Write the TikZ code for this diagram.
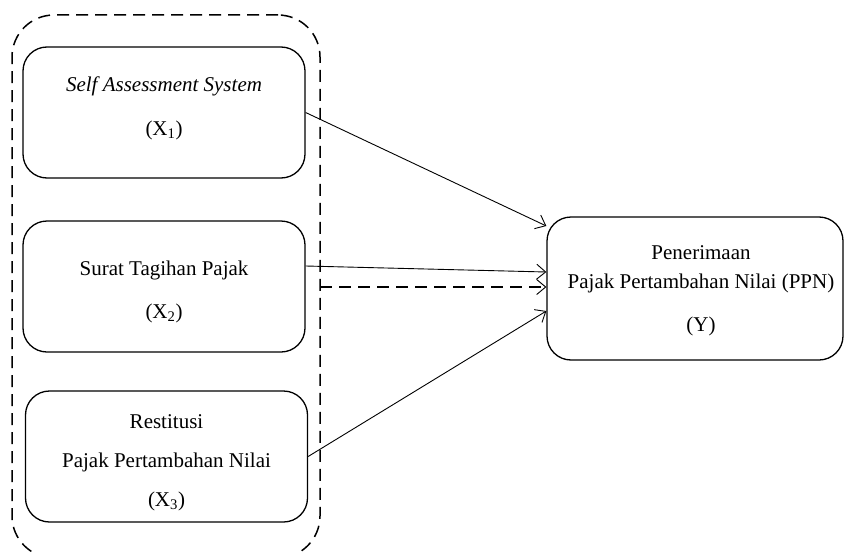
\documentclass[tikz,border=0pt]{standalone}
\usepackage{fontspec}
\setmainfont{Liberation Serif}
\usetikzlibrary{arrows.meta}
\begin{document}
\begin{tikzpicture}[x=1pt,y=-1pt,
  box/.style={draw,line width=1.3pt,rounded corners=24pt,inner sep=0pt,minimum width=282pt,minimum height=131pt},
  lbl/.style={font=\fontsize{21}{25}\selectfont,inner sep=0pt},
  arr/.style={line width=0.9pt,-{Straight Barb[length=9pt,width=15pt,line width=0.9pt]}},
  frame/.style={draw,line width=1.5pt,dash pattern=on 12pt off 7pt,rounded corners=42pt,inner sep=0pt}]
\useasboundingbox (0,0) rectangle (845,551);
\node[frame,minimum width=308pt,minimum height=543pt] (outer) at (166,286.5) {};
\node[box] (b1) at (164,112.5) {};
\node[box] (b2) at (164,286.5) {};
\node[box] (b3) at (166.5,456.5) {};
\node[box,minimum width=296pt,minimum height=143pt] (Y) at (695,288.5) {};
\node[lbl] (t1a) at (164,86) {\itshape Self Assessment System};
\node[lbl] (t1b) at (164,130) {(X\textsubscript{1})};
\node[lbl] (t2a) at (164,270) {Surat Tagihan Pajak};
\node[lbl] (t2b) at (164,313) {(X\textsubscript{2})};
\node[lbl] (t3a) at (166.5,422) {Restitusi};
\node[lbl] (t3b) at (166.5,462) {Pajak Pertambahan Nilai};
\node[lbl] (t3c) at (166.5,501) {(X\textsubscript{3})};
\node[lbl] (ya) at (701,253) {Penerimaan};
\node[lbl] (yb) at (701,283) {Pajak Pertambahan Nilai (PPN)};
\node[lbl] (yc) at (701,326) {(Y)};
\coordinate (ds) at (320,287);
\draw[arr] (b1.east) -- ([yshift=62.5pt]Y.west);
\draw[arr] ([yshift=20.5pt]b2.east) -- ([yshift=16.5pt]Y.west);
\draw[arr,line width=1.5pt,dash pattern=on 12pt off 7pt] (ds) -- ([yshift=1.5pt]Y.west);
\draw[arr] (b3.east) -- ([yshift=-22.5pt]Y.west);
\end{tikzpicture}
\end{document}
